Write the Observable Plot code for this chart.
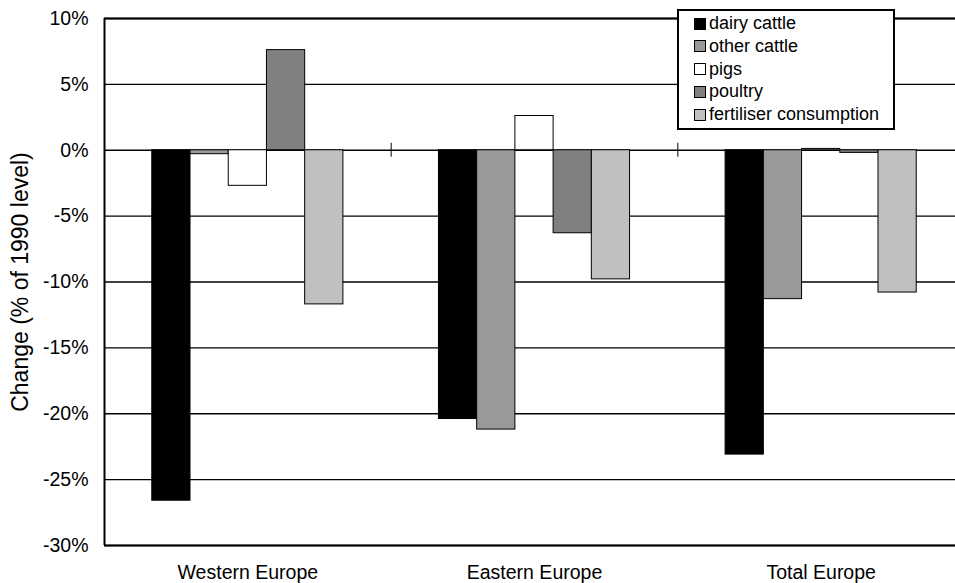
<!DOCTYPE html>
<html>
<head>
<meta charset="utf-8">
<script src="https://cdn.jsdelivr.net/npm/d3@7"></script>
<script src="https://cdn.jsdelivr.net/npm/@observablehq/plot@0.6"></script>
<style>
  html, body { margin: 0; padding: 0; background: #fff; overflow: hidden; }
  #chart { position: relative; width: 955px; height: 583px; font-family: "Liberation Sans", Arial, sans-serif; }
  #legend {
    position: absolute; left: 677px; top: 9px; width: 214px; height: 117px;
    border: 2px solid #000; background: #fff; box-sizing: content-box;
    font-size: 18px; color: #000;
  }
  #legend .row { position: absolute; left: 15px; height: 23px; display: flex; align-items: center; white-space: nowrap; }
  #legend .sw { width: 10px; height: 10px; border: 1.5px solid #000; margin-right: 3px; flex: none; }
</style>
</head>
<body>
<div id="chart"></div>
<script>
// Change in livestock numbers and fertiliser use relative to 1990 (%)
const regions = ["Western Europe", "Eastern Europe", "Total Europe"];
const series = ["dairy cattle", "other cattle", "pigs", "poultry", "fertiliser consumption"];
const dairyCattle = [-26.6, -20.4, -23.1];
const otherCattle = [-0.3, -21.2, -11.3];
const pigs = [-2.7, 2.6, 0.1];
const poultry = [7.6, -6.3, -0.2];
const fertiliser = [-11.7, -9.8, -10.8];
const seriesColors = ["#000000", "#999999", "#ffffff", "#808080", "#c0c0c0"];
const yTicks = [-30, -25, -20, -15, -10, -5, 0, 5, 10];
const yTitle = "Change (% of 1990 level)";

const values = [dairyCattle, otherCattle, pigs, poultry, fertiliser];

// each region occupies a slot of n bars plus padding on either side
const pad = 1.25;
const slot = series.length + 2 * pad;
const xMax = regions.length * slot;

const bars = [];
regions.forEach((region, r) => {
  series.forEach((s, i) => {
    const x1 = r * slot + pad + i;
    bars.push({region, series: s, value: values[i][r], x1, x2: x1 + 1});
  });
});
const boundaries = regions.slice(1).map((_, i) => (i + 1) * slot);
const centers = regions.map((region, r) => ({region, x: r * slot + slot / 2}));

const font = "Liberation Sans, Arial, sans-serif";

const plot = Plot.plot({
  width: 955,
  height: 583,
  style: {fontFamily: font, background: "#fff", overflow: "hidden"},
  x: {domain: [0, xMax], range: [104, 964], axis: null},
  y: {domain: [-30, 10], range: [545, 18], axis: null},
  color: {domain: series, range: seriesColors},
  marks: [
    // horizontal gridlines
    Plot.ruleY(yTicks, {y: d => d, x1: 0, x2: xMax, stroke: "#000", strokeWidth: 1.3}),
    // frame: top, bottom, left
    Plot.ruleY([10, -30], {y: d => d, x1: 0, x2: xMax, stroke: "#000", strokeWidth: 2}),
    Plot.ruleX([0], {x: d => d, y1: -30, y2: 10, stroke: "#000", strokeWidth: 2}),
    // bars
    Plot.rectY(bars, {
      x1: "x1", x2: "x2", y1: 0, y2: "value",
      fill: "series", stroke: "#000", strokeWidth: 1
    }),
    // category separators on the zero line
    Plot.ruleX(boundaries, {x: d => d, y1: 0, y2: 0, insetTop: -7, insetBottom: -7, stroke: "#000", strokeWidth: 1}),
    // y tick labels
    Plot.text(yTicks, {
      x: 0, y: d => d, text: d => `${d}%`, textAnchor: "end", dx: -16,
      fontSize: 19.5, fill: "#000"
    }),
    // region labels
    Plot.text(centers, {
      x: "x", y: -30, text: "region", lineAnchor: "top", dy: 20,
      fontSize: 19.5, fill: "#000"
    }),
    // y axis title
    Plot.text([yTitle], {
      x: 0, y: -10, text: d => d, rotate: -90, dx: -84,
      fontSize: 23, fill: "#000"
    })
  ]
});

const chart = document.getElementById("chart");
chart.appendChild(plot);

// legend
const legend = document.createElement("div");
legend.id = "legend";
series.forEach((s, i) => {
  const row = document.createElement("div");
  row.className = "row";
  row.style.top = (1 + i * 22.8) + "px";
  const sw = document.createElement("span");
  sw.className = "sw";
  sw.style.background = seriesColors[i];
  const label = document.createElement("span");
  label.textContent = s;
  row.appendChild(sw);
  row.appendChild(label);
  legend.appendChild(row);
});
chart.appendChild(legend);
</script>
</body>
</html>
